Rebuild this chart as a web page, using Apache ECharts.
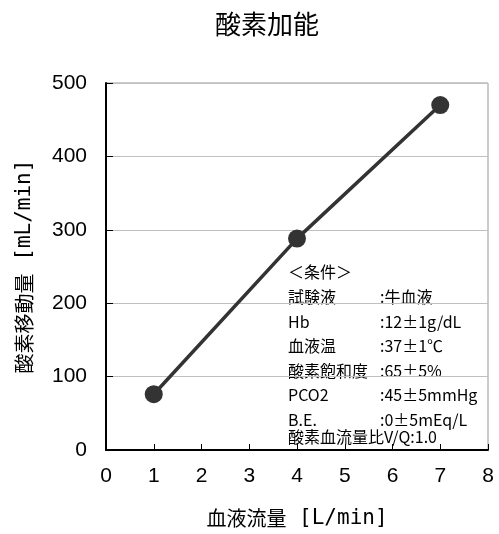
<!DOCTYPE html>
<html>
<head>
<meta charset="utf-8">
<script src="https://cdn.jsdelivr.net/npm/echarts@6/dist/echarts.min.js"></script>
<style>html,body{margin:0;padding:0;background:#fff}#c{width:499px;height:534px}</style>
</head>
<body>
<div id="c"></div>
<script>
const flowRates = [1, 4, 7];
const o2Transfer = [76, 288, 470];
const xTicks = [0, 8, 1];
const yTicks = [0, 500, 100];
const titleText = '酸素加能';
const xNameJa = '血液流量';
const xNameUnit = ' [L/min]';
const yNameJa = '酸素移動量';
const yNameUnit = ' [mL/min]';
const condLabels = ['試験液', 'Hb', '血液温', '酸素飽和度', 'PCO2', 'B.E.'];
const condValues = [':牛血液', ':12±1g/dL', ':37±1℃', ':65±5%', ':45±5mmHg', ':0±5mEq/L'];
const condHeader = '＜条件＞';
const condLast = '酸素血流量比V/Q:1.0';

const FONT = '"Noto Sans CJK JP", "Liberation Sans", sans-serif';
const NUMFONT = '"Liberation Sans", "Noto Sans CJK JP", sans-serif';
const MONO = '"DejaVu Sans Mono", "Noto Sans CJK JP", monospace';
const chart = echarts.init(document.getElementById('c'));

const graphics = [];
const txt = (x, y, s) => ({type:'text', x: x, y: y, style:{text:s, font:'16px ' + FONT, fill:'#000', textVerticalAlign:'middle'}});
graphics.push(txt(288, 272, condHeader));
condLabels.forEach((l, i) => {
  const y = 297 + i * 24.5;
  graphics.push(txt(288, y, l));
  graphics.push(txt(380, y, condValues[i]));
});
graphics.push(txt(288, 437, condLast));

const nameRich = {
  ja: {fontFamily: FONT, fontSize: 20, color: '#000'},
  u: {fontFamily: MONO, fontSize: 21, color: '#000'}
};

chart.setOption({
  animation: false,
  title: {text: titleText, left: 262, top: 6, textAlign: 'center',
    textStyle: {fontFamily: FONT, fontSize: 26, fontWeight: 'normal', color: '#000'}},
  grid: {left: 106, right: 11, top: 83, bottom: 83, show: true, borderColor: '#999', borderWidth: 1},
  xAxis: {
    type: 'value', min: xTicks[0], max: xTicks[1], interval: xTicks[2],
    name: '{ja|' + xNameJa + '}{u|' + xNameUnit + '}', nameLocation: 'middle', nameGap: 58,
    nameTextStyle: {rich: nameRich},
    axisLine: {lineStyle: {color: '#000', width: 2}},
    axisTick: {inside: true, length: 6, lineStyle: {color: '#000'}},
    axisLabel: {fontFamily: NUMFONT, fontSize: 21, color: '#000', margin: 16},
    splitLine: {show: false}
  },
  yAxis: {
    type: 'value', min: yTicks[0], max: yTicks[1], interval: yTicks[2],
    name: '{ja|' + yNameJa + '}{u|' + yNameUnit + '}', nameLocation: 'middle', nameGap: 71, nameRotate: 90,
    nameTextStyle: {rich: nameRich},
    axisLine: {show: true, lineStyle: {color: '#000', width: 2}},
    axisTick: {show: true, inside: true, length: 7, lineStyle: {color: '#000'}},
    axisLabel: {fontFamily: NUMFONT, fontSize: 21, color: '#000', margin: 19},
    splitLine: {show: true, lineStyle: {color: '#c0c0c0', width: 1}}
  },
  series: [{
    type: 'line',
    data: flowRates.map((x, i) => [x, o2Transfer[i]]),
    symbol: 'circle', symbolSize: 18,
    lineStyle: {color: '#333', width: 3.5},
    itemStyle: {color: '#333'}
  }],
  graphic: graphics
});
</script>
</body>
</html>
